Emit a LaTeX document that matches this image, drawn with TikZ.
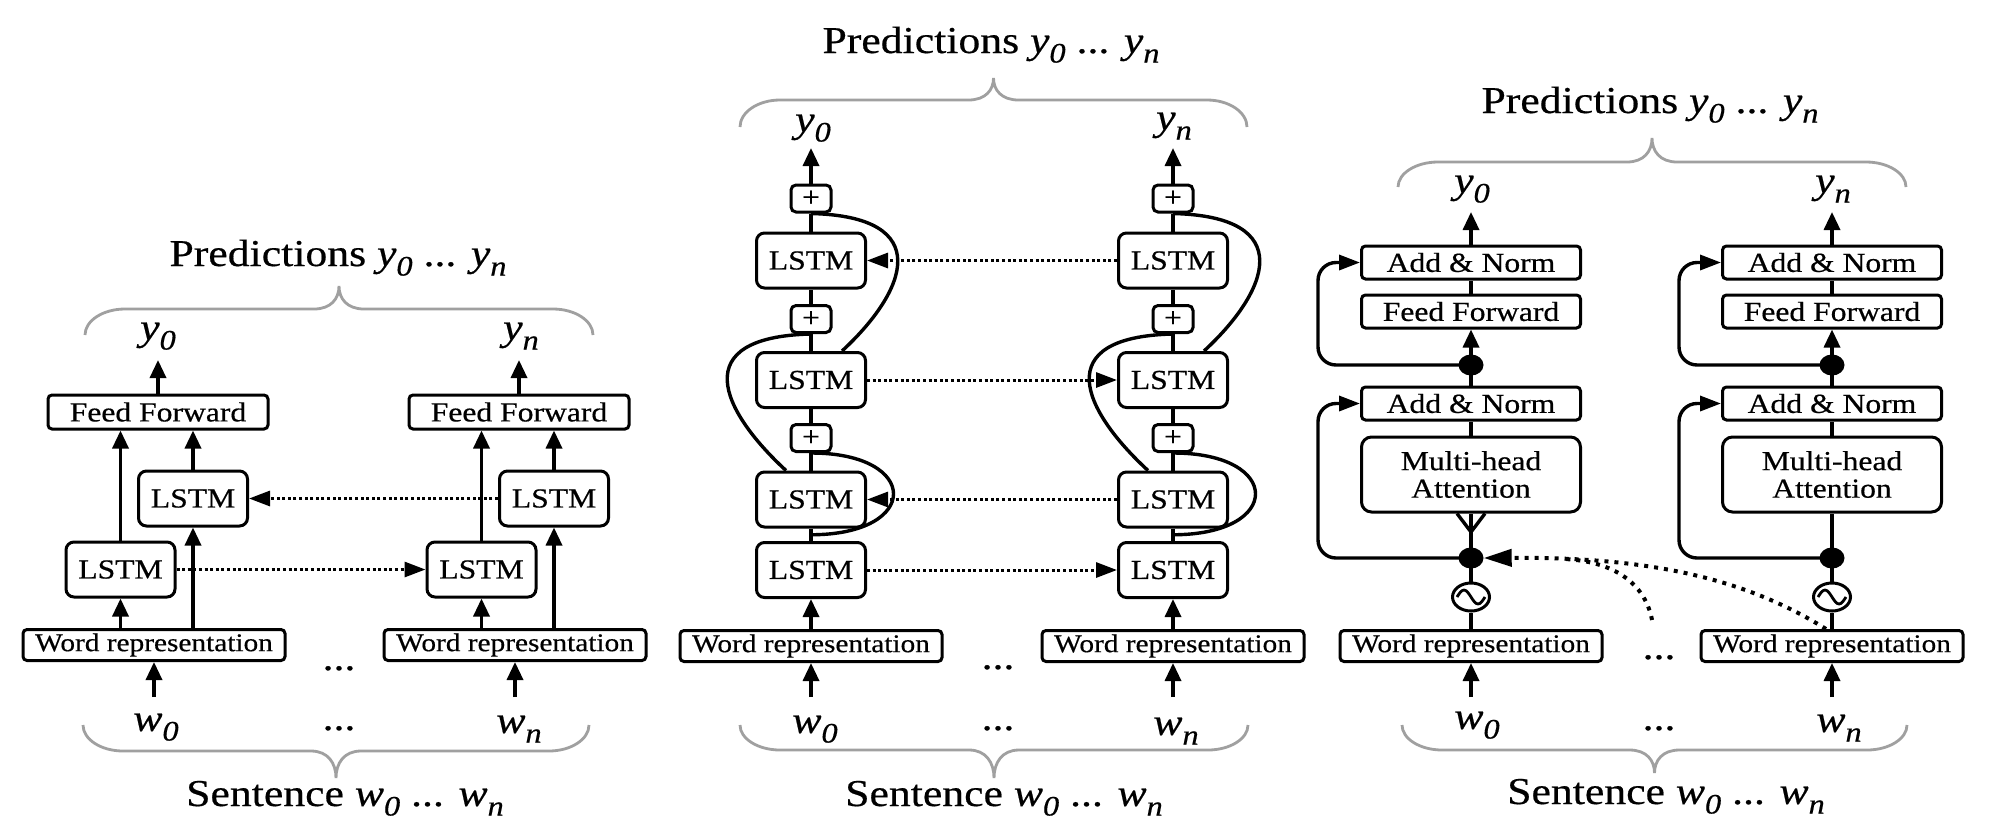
\documentclass[tikz,border=0pt]{standalone}
\usepackage{fontspec}
\setmainfont{Liberation Serif}[FakeStretch=1.15,FakeBold=0.5]
\usepackage{graphicx}
\usetikzlibrary{arrows.meta,shapes.geometric,calc}
\definecolor{bracegray}{RGB}{160,160,160}
% italic symbol with a lowered italic index
\newcommand\lbl[2]{\textit{#1}\raisebox{-0.25em}{\scalebox{0.74}{\textit{#2}}}}
% grey curly brace: x-left, x-right, y of the ends, y of the bar, y of the tip
\newcommand\gbrace[5]{%
  \pgfmathsetmacro\bxc{(#1+#2)/2}%
  \pgfmathsetmacro\byc{#3+0.55*(#4-#3)}%
  \pgfmathsetmacro\byt{#4+0.45*(#5-#4)}%
  \draw[bracestroke] (#1,#3) .. controls (#1,\byc) and ({#1+18},#4) .. ({#1+40},#4)
     -- ({\bxc-25},#4) .. controls ({\bxc-8},#4) and (\bxc,\byt) .. (\bxc,#5)
     .. controls (\bxc,\byt) and ({\bxc+8},#4) .. ({\bxc+25},#4)
     -- ({#2-40},#4) .. controls ({#2-18},#4) and (#2,\byc) .. (#2,#3);}
\tikzset{
  box/.style={draw, line width=3pt, rounded corners=4pt, inner sep=0pt,
              font=\fontsize{27.5}{27.5}\selectfont},
  lstm/.style={box, rounded corners=8pt, minimum width=109pt, minimum height=55pt},
  ffbox/.style={box, minimum width=220pt, minimum height=34pt},
  wordbox/.style={box, minimum width=262pt, minimum height=31pt,
                  font=\fontsize{25.5}{26}\selectfont},
  plusbox/.style={box, rounded corners=5pt, minimum width=40pt, minimum height=27pt},
  anbox/.style={box, minimum width=219pt, minimum height=33pt},
  mhabox/.style={box, rounded corners=10pt, minimum width=219pt, minimum height=75pt,
                 align=center},
  junction/.style={ellipse, fill=black, minimum width=25pt, minimum height=21pt, inner sep=0pt},
  oscbox/.style={ellipse, draw, line width=3pt, minimum width=37pt, minimum height=28pt,
                 inner sep=0pt},
  conn/.style={line width=3.4pt},
  uparr/.style={conn, -{Triangle[length=18pt,width=16pt]}},
  sidetip/.style={-{Triangle[length=21pt,width=15pt]}},
  dotline/.style={line width=3pt, dash pattern=on 3pt off 2.6pt},
  bigdotline/.style={line width=4pt, dash pattern=on 4pt off 6pt},
  lab/.style={anchor=base, inner sep=0pt, font=\fontsize{38}{42}\selectfont},
  bracestroke/.style={draw=bracegray, line width=2.8pt}
}
\begin{document}
\begin{tikzpicture}[x=1pt,y=-1pt]
\fill[white] (0,0) rectangle (1999,815);
\useasboundingbox (0,0) rectangle (1999,815);

%% ---------- left panel: stacked bidirectional LSTM ----------
\foreach \o/\s in {0/L,361/R}{
  \node[ffbox] (aff\s) at (158+\o,412) {Feed Forward};
  \node[lstm] (aup\s) at (193+\o,498.5) {LSTM};
  \node[lstm] (alo\s) at (120.5+\o,569.5) {LSTM};
  \node[wordbox] (awr\s) at (154+\o,645) {Word representation};
  \coordinate (aout\s) at (158+\o,360);
  \coordinate (ain\s) at (154+\o,697);
}
\draw[dotline, sidetip] (aupR.west) -- (aupL.east);
\draw[dotline, sidetip] (aloL.east) -- (aloR.west);
\foreach \s in {L,R}{
  \draw[uparr] (awr\s.north -| alo\s) -- (alo\s.south);
  \draw[uparr] (awr\s.north -| aup\s) -- (aup\s.south);
  \draw[uparr] (alo\s.north) -- (aff\s.south -| alo\s);
  \draw[uparr] (aup\s.north) -- (aff\s.south -| aup\s);
  \draw[uparr] (aff\s.north) -- (aout\s);
  \draw[uparr] (ain\s) -- (awr\s.south);
}
\node[lab] (ay0) at (158,340) {\lbl{y}{0}};
\node[lab] (ayn) at (521,340) {\lbl{y}{n}};
\node[lab] (aw0) at (156,731) {\lbl{w}{0}};
\node[lab] (awn) at (519,733) {\lbl{w}{n}};
\node[lab] (adots1) at (339,670) {...};
\node[lab] (adots2) at (339,730) {...};
\node[lab] (apred) at (338,266) {Predictions \lbl{y}{0} ... \lbl{y}{n}};
\node[lab] (asent) at (345,806) {Sentence \lbl{w}{0} ... \lbl{w}{n}};
\gbrace{85}{593}{335}{309}{286}
\gbrace{83}{589}{725}{751}{778}

%% ---------- middle panel: residual LSTM stack ----------
\foreach \c/\s in {811/L,1173/R}{
  \node[plusbox] (bp1\s) at (\c,198.5) {+};
  \node[lstm] (bL1\s) at (\c,260.5) {LSTM};
  \node[plusbox] (bp2\s) at (\c,319) {+};
  \node[lstm] (bL2\s) at (\c,380) {LSTM};
  \node[plusbox] (bp3\s) at (\c,438) {+};
  \node[lstm] (bL3\s) at (\c,499.5) {LSTM};
  \node[lstm] (bL4\s) at (\c,570) {LSTM};
  \node[wordbox] (bwr\s) at (\c,646) {Word representation};
  \coordinate (bout\s) at (\c,148);
  \coordinate (bin\s) at (\c,697);
}
\draw[dotline, sidetip] (bL1R.west) -- (bL1L.east);
\draw[dotline, sidetip] (bL2L.east) -- (bL2R.west);
\draw[dotline, sidetip] (bL3R.west) -- (bL3L.east);
\draw[dotline, sidetip] (bL4L.east) -- (bL4R.west);
\foreach \s in {L,R}{
  \draw[uparr] (bin\s) -- (bwr\s.south);
  \draw[uparr] (bwr\s.north) -- (bL4\s.south);
  \draw[conn] (bL4\s.north) -- (bL3\s.south);
  \draw[conn] (bL3\s.north) -- (bp3\s.south);
  \draw[conn] (bp3\s.north) -- (bL2\s.south);
  \draw[conn] (bL2\s.north) -- (bp2\s.south);
  \draw[conn] (bp2\s.north) -- (bL1\s.south);
  \draw[conn] (bL1\s.north) -- (bp1\s.south);
  \draw[uparr] (bp1\s.north) -- (bout\s);
  % skip connections
  \draw[conn] (bp1\s.south) .. controls +(125,3) and +(65,-60) .. ($(bL2\s.north)+(31,0)$);
  \draw[conn] (bp2\s.south) .. controls +(-125,3) and +(-65,-60) .. ($(bL3\s.north)+(-25,0)$);
  \draw[conn] (bp3\s.south) .. controls +(110,0) and +(110,0) .. ($(bL3\s.south)!0.5!(bL4\s.north)$);
}
\node[lab] (by0) at (813,132) {\lbl{y}{0}};
\node[lab] (byn) at (1174,130) {\lbl{y}{n}};
\node[lab] (bw0) at (815,733) {\lbl{w}{0}};
\node[lab] (bwn) at (1176,735) {\lbl{w}{n}};
\node[lab] (bdots1) at (998,669) {...};
\node[lab] (bdots2) at (998,730) {...};
\node[lab] (bpred) at (991,53) {Predictions \lbl{y}{0} ... \lbl{y}{n}};
\node[lab] (bsent) at (1004,806) {Sentence \lbl{w}{0} ... \lbl{w}{n}};
\gbrace{740}{1247}{127}{100}{78}
\gbrace{740}{1248}{725}{750}{778}

%% ---------- right panel: transformer encoder ----------
\foreach \c/\s in {1471/L,1832/R}{
  \node[anbox] (can1\s) at (\c,262.5) {Add \& Norm};
  \node[anbox] (cff\s) at (\c,311.5) {Feed Forward};
  \node[junction] (cd1\s) at (\c,365) {};
  \node[anbox] (can2\s) at (\c,403.5) {Add \& Norm};
  \node[mhabox] (cmha\s) at (\c,474.5) {Multi-head\\Attention};
  \node[junction] (cd2\s) at (\c,558) {};
  \node[oscbox] (cosc\s) at (\c,597) {};
  \node[wordbox] (cwr\s) at (\c,646) {Word representation};
  \coordinate (cout\s) at (\c,212);
  \coordinate (cin\s) at (\c,697);
  \coordinate (cl1\s) at (\c-153,262.5);
  \coordinate (cl2\s) at (\c-153,403.5);
}
\foreach \s in {L,R}{
  \draw[uparr] (can1\s.north) -- (cout\s);
  \draw[conn] (cff\s.north) -- (can1\s.south);
  \draw[uparr] (cd1\s.center) -- (cff\s.south);
  \draw[conn] (can2\s.north) -- (cd1\s.center);
  \draw[conn] (cmha\s.north) -- (can2\s.south);
  \draw[conn] (cwr\s.north) -- (cosc\s.south);
  \draw[conn] (cosc\s.north) -- (cd2\s.center);
  \draw[uparr] (cin\s) -- (cwr\s.south);
  \draw[conn, sidetip, rounded corners=18pt] (cd1\s.center) -| (cl1\s) -- (can1\s.west);
  \draw[conn, sidetip, rounded corners=18pt] (cd2\s.center) -| (cl2\s) -- (can2\s.west);
  \draw[line width=2.8pt] ($(cosc\s.center)+(-14,0)$) sin ++(7,-7) cos ++(7,7) sin ++(7,7) cos ++(7,-7);
}
% query / key / value split
\coordinate (ctj) at (1471,532);
\draw[conn] (cd2L.center) -- (ctj);
\draw[conn] (ctj) -- ($(cmhaL.south)+(-14,0)$);
\draw[conn] (ctj) -- (cmhaL.south);
\draw[conn] (ctj) -- ($(cmhaL.south)+(14,0)$);
\draw[conn] (cd2R.center) -- (cmhaR.south);
% attention to the other positions
\coordinate (tailA) at (1826,629);
\coordinate (tailB) at (1652,620);
\coordinate (mergeB) at (1565,559);
\draw[bigdotline, -{Triangle[length=28pt,width=17pt]}] (tailA) .. controls (1740,575) and (1640,557) .. (cd2L.east);
\draw[bigdotline] (tailB) .. controls (1646,588) and (1620,562) .. (mergeB);
\node[lab] (cy0) at (1472,193) {\lbl{y}{0}};
\node[lab] (cyn) at (1833,193) {\lbl{y}{n}};
\node[lab] (cw0) at (1477,729) {\lbl{w}{0}};
\node[lab] (cwn) at (1839,732) {\lbl{w}{n}};
\node[lab] (cdots1) at (1659,659) {...};
\node[lab] (cdots2) at (1659,730) {...};
\node[lab] (cpred) at (1650,113) {Predictions \lbl{y}{0} ... \lbl{y}{n}};
\node[lab] (csent) at (1666,804) {Sentence \lbl{w}{0} ... \lbl{w}{n}};
\gbrace{1398}{1906}{187}{162}{138}
\gbrace{1402}{1907}{725}{750}{773}
\end{tikzpicture}
\end{document}
